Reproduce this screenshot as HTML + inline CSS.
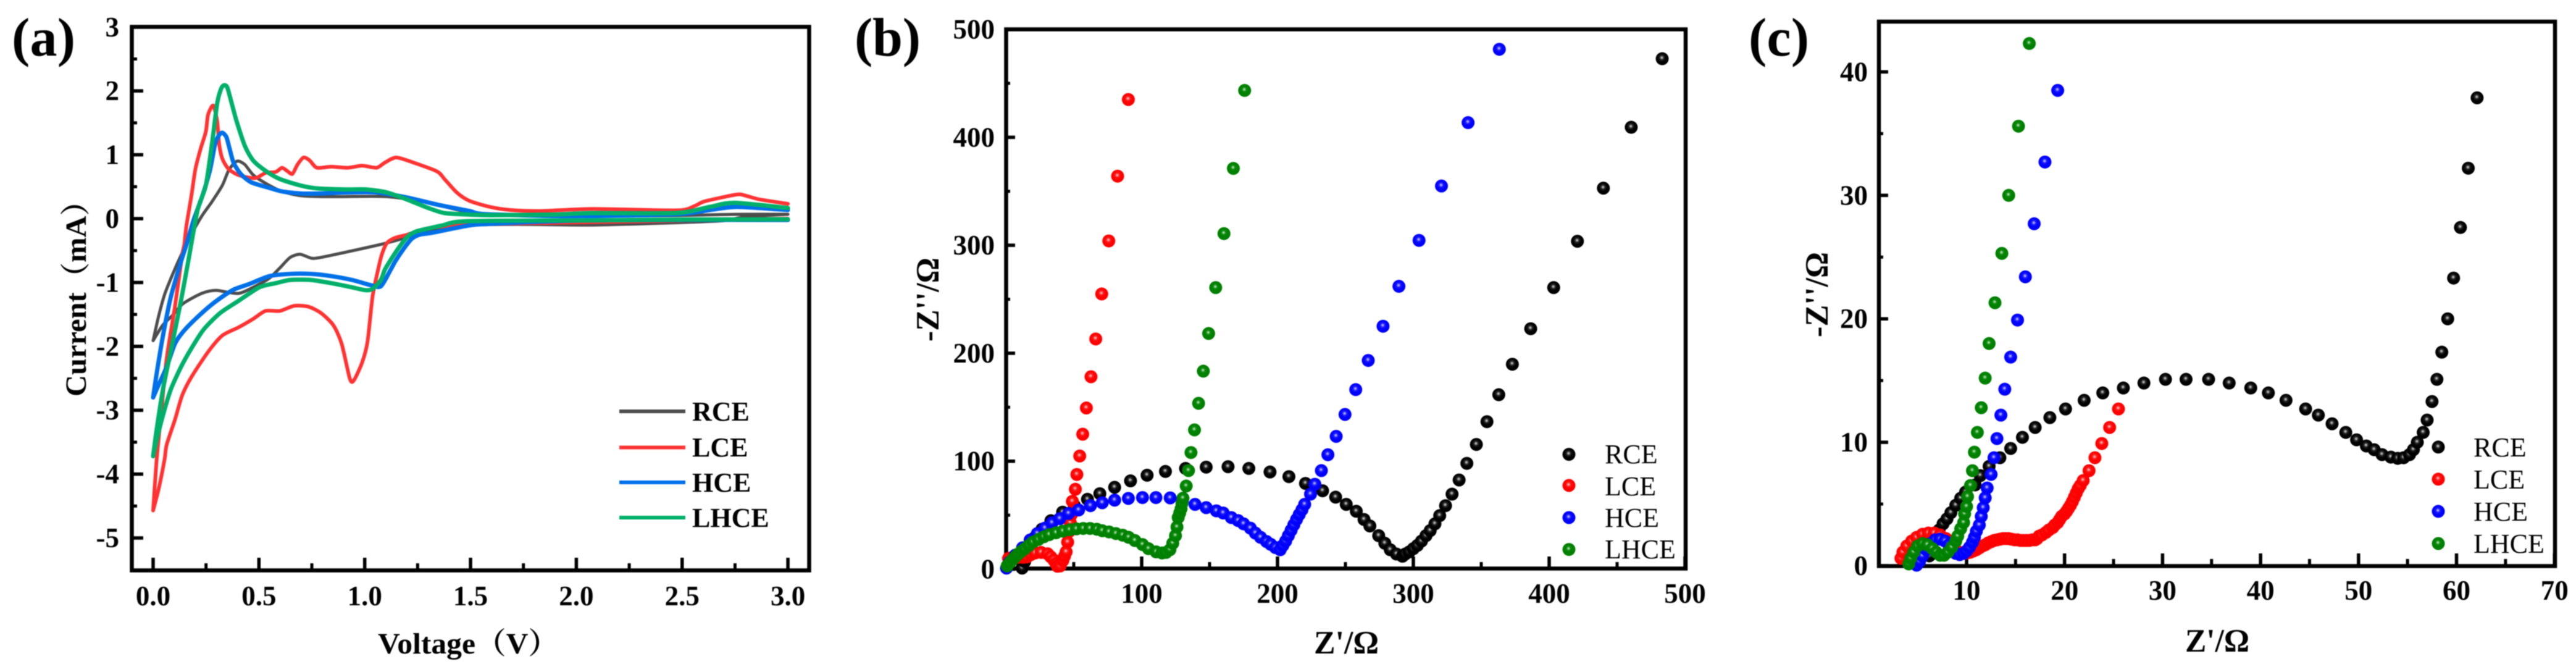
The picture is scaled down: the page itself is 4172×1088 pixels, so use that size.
<!DOCTYPE html>
<html lang="en">
<head>
<meta charset="utf-8">
<title>Electrochemical characterisation: CV and Nyquist plots</title>
<style>
html,body{margin:0;padding:0;background:#fff;width:4172px;height:1088px;overflow:hidden}
svg{display:block;filter:blur(.9px)}
text{font-family:"Liberation Serif","Noto Serif CJK SC",serif;fill:#000}
.tick{font-size:45px;font-weight:bold}
.ttl{font-size:48px;font-weight:bold}
.ttl-z{font-size:53px;font-weight:bold}
.leg-a{font-size:44px;font-weight:bold}
.leg{font-size:44px}
.tag{font-size:88px;font-weight:bold}
</style>
</head>
<body>
<svg id="figure" xmlns="http://www.w3.org/2000/svg" width="4172" height="1088" viewBox="0 0 4172 1088">
<defs>
<radialGradient id="ball-black" cx=".47" cy=".42" r=".55"><stop offset="0" stop-color="#e0e0e0"/><stop offset=".3" stop-color="#222"/><stop offset=".6" stop-color="#000"/></radialGradient>
<radialGradient id="ball-red" cx=".47" cy=".42" r=".55"><stop offset="0" stop-color="#ffd8d8"/><stop offset=".3" stop-color="#ff1a1a"/><stop offset=".6" stop-color="#ff0000"/></radialGradient>
<radialGradient id="ball-blue" cx=".47" cy=".42" r=".55"><stop offset="0" stop-color="#d8d8ff"/><stop offset=".3" stop-color="#1a1aff"/><stop offset=".6" stop-color="#0000ff"/></radialGradient>
<radialGradient id="ball-green" cx=".47" cy=".42" r=".55"><stop offset="0" stop-color="#d0ecd0"/><stop offset=".3" stop-color="#0a8a0a"/><stop offset=".6" stop-color="#008000"/></radialGradient>
</defs>

<g id="panel-a">
<rect x="213.5" y="43.5" width="1097" height="880" fill="#fff" stroke="#000" stroke-width="6.5"/>
<g id="a-ticks"></g>
<g id="a-series"></g>
<text class="tag" x="19" y="90" textLength="103">(a)</text>
<text class="ttl" transform="translate(139,642) rotate(-90)" textLength="341" lengthAdjust="spacingAndGlyphs">Current（mA）</text>
<text class="ttl" x="612" y="1058" textLength="293" lengthAdjust="spacingAndGlyphs">Voltage（V）</text>
<g>
<line x1="1003" x2="1110" y1="666" y2="666" stroke="#4d4d4d" stroke-width="6"/>
<line x1="1003" x2="1110" y1="724.5" y2="724.5" stroke="#ff3333" stroke-width="6"/>
<line x1="1003" x2="1110" y1="781" y2="781" stroke="#0070e8" stroke-width="6"/>
<line x1="1003" x2="1110" y1="838" y2="838" stroke="#00b06a" stroke-width="6"/>
<text class="leg-a" x="1121" y="681">RCE</text>
<text class="leg-a" x="1121" y="739">LCE</text>
<text class="leg-a" x="1121" y="796">HCE</text>
<text class="leg-a" x="1121" y="853">LHCE</text>
</g>
</g>

<g id="panel-b">
<rect x="1629.5" y="47.5" width="1100.5" height="873" fill="#fff" stroke="#000" stroke-width="6.5"/>
<g id="b-ticks"></g>
<g id="b-series"></g>
<text class="tag" x="1384" y="90" textLength="107">(b)</text>
<text class="ttl-z" transform="translate(1520,553) rotate(-90)" textLength="136" lengthAdjust="spacingAndGlyphs">-Z''/Ω</text>
<text class="ttl-z" x="2128" y="1058" textLength="105" lengthAdjust="spacingAndGlyphs">Z'/Ω</text>
<g>
<circle cx="2541" cy="735.6" r="10.5" fill="url(#ball-black)"/>
<circle cx="2541" cy="786" r="10.5" fill="url(#ball-red)"/>
<circle cx="2541" cy="838" r="10.5" fill="url(#ball-blue)"/>
<circle cx="2541" cy="889.6" r="10.5" fill="url(#ball-green)"/>
<text class="leg" x="2599" y="750">RCE</text>
<text class="leg" x="2599" y="802">LCE</text>
<text class="leg" x="2599" y="853">HCE</text>
<text class="leg" x="2599" y="904">LHCE</text>
</g>
</g>

<g id="panel-c">
<rect x="3043" y="35" width="1095" height="881.5" fill="#fff" stroke="#000" stroke-width="6.5"/>
<g id="c-ticks"></g>
<g id="c-series"></g>
<text class="tag" x="2832" y="90" textLength="98">(c)</text>
<text class="ttl-z" transform="translate(2960,546) rotate(-90)" textLength="138" lengthAdjust="spacingAndGlyphs">-Z''/Ω</text>
<text class="ttl-z" x="3539" y="1055" textLength="104" lengthAdjust="spacingAndGlyphs">Z'/Ω</text>
<g>
<circle cx="3949" cy="723.8" r="10.5" fill="url(#ball-black)"/>
<circle cx="3949" cy="775.8" r="10.5" fill="url(#ball-red)"/>
<circle cx="3949" cy="827.9" r="10.5" fill="url(#ball-blue)"/>
<circle cx="3949" cy="880" r="10.5" fill="url(#ball-green)"/>
<text class="leg" x="4006" y="739">RCE</text>
<text class="leg" x="4006" y="791">LCE</text>
<text class="leg" x="4006" y="843">HCE</text>
<text class="leg" x="4006" y="895">LHCE</text>
</g>
</g>
</svg>

<script>
/* ---------- Panel (a): cyclic voltammetry ---------- */
const aXMajor = [0, 0.5, 1, 1.5, 2, 2.5, 3];
const aXMinor = [0.25, 0.75, 1.25, 1.75, 2.25, 2.75];
const aXLabels = ['0.0', '0.5', '1.0', '1.5', '2.0', '2.5', '3.0'];
const aYMajor = [3, 2, 1, 0, -1, -2, -3, -4, -5];
const aYMinor = [2.5, 1.5, 0.5, -0.5, -1.5, -2.5, -3.5, -4.5];
const aYLabels = ['3', '2', '1', '0', '-1', '-2', '-3', '-4', '-5'];

const rceVoltage = [0,.025,.054,.093,.132,.18,.23,.278,.327,.356,.385,.405,.434,.473,.531,.609,.696,.794,.891,1.105,1.3,1.45,1.6,2,2.476,2.76,3,3,2.8,2.7,2.5,2.08,1.72,1.47,1.35,1.105,.91,.842,.755,.696,.648,.6,.55,.502,.405,.298,.23,.142,.093,.045,0];
const rceCurrent = [-1.91,-1.54,-1.19,-.865,-.574,-.25,.04,.265,.52,.75,.877,.9,.845,.684,.555,.426,.36,.345,.345,.345,.25,.13,.07,.04,.05,.068,.068,.068,.03,-.03,-.06,-.1,-.09,-.106,-.155,-.38,-.525,-.574,-.623,-.558,-.606,-.768,-.93,-1.025,-1.17,-1.123,-1.17,-1.33,-1.51,-1.67,-1.91];

const lceVoltage = [0,.016,.035,.064,.103,.137,.147,.157,.181,.2,.225,.249,.259,.278,.288,.303,.312,.327,.356,.405,.482,.531,.58,.609,.633,.658,.682,.711,.74,.774,.842,.92,.988,1.056,1.095,1.149,1.231,1.342,1.377,1.435,1.494,1.591,1.688,1.834,2.08,2.476,2.56,2.606,2.757,2.8,2.867,3,3,2.5,2,1.72,1.47,1.3,1.202,1.144,1.105,1.08,1.061,1.037,1.013,.988,.949,.93,.891,.852,.794,.735,.667,.599,.531,.473,.405,.327,.259,.181,.137,.103,.064,.054,.027,0];
const lceCurrent = [-4.57,-3.8,-3.15,-2.19,-1.38,-.574,-.41,-.12,.36,.78,1.1,1.36,1.62,1.76,1.75,1.52,1.17,.94,.78,.68,.635,.716,.732,.797,.748,.7,.845,.958,.91,.797,.813,.797,.829,.797,.877,.958,.877,.739,.62,.41,.28,.184,.135,.12,.152,.13,.2,.27,.377,.36,.3,.232,0,-.03,-.06,-.075,-.1,-.15,-.25,-.3,-.38,-.57,-.83,-1.22,-1.93,-2.25,-2.53,-2.51,-1.96,-1.67,-1.48,-1.38,-1.365,-1.445,-1.445,-1.57,-1.7,-1.83,-2.09,-2.48,-2.77,-3.15,-3.54,-3.77,-4.22,-4.57];

const hceVoltage = [0,.016,.045,.084,.132,.157,.191,.23,.268,.293,.312,.327,.346,.361,.38,.414,.463,.541,.609,.696,.794,.91,1.056,1.202,1.348,1.495,1.573,1.98,2.476,2.63,2.76,3,3,2.5,2,1.6,1.495,1.319,1.26,1.222,1.183,1.144,1.12,1.076,1.027,.94,.842,.745,.648,.55,.453,.375,.288,.21,.142,.103,.064,.025,0];
const hceCurrent = [-2.8,-2.44,-1.86,-1.22,-.67,-.41,-.026,.33,.75,1.17,1.31,1.345,1.28,1.1,.877,.7,.57,.49,.426,.394,.394,.41,.41,.33,.216,.12,.07,.04,.07,.135,.184,.135,-.02,-.02,-.03,-.08,-.106,-.22,-.25,-.316,-.477,-.67,-.815,-1.06,-1.04,-.96,-.9,-.865,-.865,-.9,-1.025,-1.12,-1.316,-1.54,-1.77,-1.96,-2.32,-2.61,-2.8];

const lhceVoltage = [0,.016,.045,.084,.132,.171,.21,.249,.278,.303,.322,.337,.351,.371,.395,.434,.473,.531,.599,.696,.774,.91,1.007,1.105,1.202,1.3,1.378,1.495,1.592,1.884,2.08,2.476,2.63,2.748,3,3,2.5,2.08,1.484,1.367,1.3,1.241,1.202,1.163,1.124,1.095,1.076,1.037,1.003,.94,.842,.745,.648,.58,.502,.405,.317,.239,.181,.132,.084,.054,.025,0];
const lhceCurrent = [-3.72,-3.32,-2.7,-2.06,-1.28,-.574,.135,.52,1.17,1.81,2.04,2.09,2.05,1.81,1.52,1.135,.91,.75,.62,.52,.474,.457,.457,.41,.297,.167,.087,.064,.055,.064,.087,.09,.184,.248,.167,-.01,-.015,-.026,-.04,-.106,-.155,-.203,-.283,-.445,-.64,-.8,-.96,-1.1,-1.12,-1.075,-1.01,-.96,-.96,-1.01,-1.075,-1.284,-1.477,-1.735,-2.03,-2.32,-2.67,-2.99,-3.35,-3.72];

/* ---------- Panel (b): Nyquist, full range ---------- */
const bXMajor = [100, 200, 300, 400, 500];
const bXMinor = [50, 150, 250, 350, 450];
const bXLabels = ['100', '200', '300', '400', '500'];
const bYMajor = [500, 400, 300, 200, 100, 0];
const bYMinor = [450, 350, 250, 150, 50];
const bYLabels = ['500', '400', '300', '200', '100', '0'];

const bRceReal = [12,13.9,16.6,21,26.6,33.2,41.8,50.5,60.1,69.2,80.1,91.8,104,117.5,132.3,147.5,163.6,178.9,194.5,208.4,220.6,233.2,242.8,250.6,258,263.7,268,274.5,279,283,287.6,292,294,297,300,303,306,309.3,312.4,315.9,319.4,323.7,328.5,333.7,339.4,346.4,354.2,362.9,372.9,386.4,403.3,420.8,439.9,460.4,483.2];
const bRceImag = [1,7.1,19,29,37,44.9,52.8,58.8,64.7,69.9,75.8,81.8,87,90.5,93.3,94.5,94.9,93.3,90,85.7,79.4,72.6,66.7,60,53.6,46,40,31,24,18,14,12,14,16,19,22,26,31,35.7,42,49.6,58.8,69.5,82.6,98,115.5,136.6,161.6,189.8,222.7,260.8,303.7,352.9,409.3,472.8];

const bLceReal = [2,5,9,12.5,15.6,18.5,21.6,26,30.8,33,35.3,37,38,40,42,43.2,44.4,45.5,46.7,47.5,48.2,49,51.2,52.3,54.4,56.6,59.3,62.7,66.2,70.6,75.8,82.3,90.2];
const bLceImag = [10,11,11,11,11.3,13.5,15,15.5,14.2,11.5,8.5,5,2.7,3,8,12,16,25,35,43,50.5,62.8,74,87.7,104.8,125,149.3,178.2,213.2,254.9,304,364,435];

const bHceReal = [.5,2.7,7,12.3,17.9,23.2,28.8,34,39.7,46.2,53.6,62.3,71,80.1,90.2,100.6,110.5,121,130,139.3,147.5,155,160,166,171,175,180,183.7,187.5,191.9,195,198.5,202,204,206,208,210,212,214,216,218,220,224.3,227.5,232.3,237.1,243.2,249.7,257.6,266.8,277.7,289.4,304.2,320.7,340.3,363.3];
const bHceImag = [1,6.4,13,19.8,27,33,38,42.9,46.8,51.6,54.8,58.8,61.5,63.9,65.5,66.3,66.3,66,63,60,57,54,52,47.8,45,42,38,33.4,29.5,25.6,23,20,18,22,26,31,36,41,46,50.6,55,60,69.5,78.6,91.3,106,123,143.3,166.3,193.3,225,262,304.5,354.9,413.6,481.5];

const bLhceReal = [1,3,5,7,9,11.4,14,17,20,24,28,32,37,42,47,52,57,62,67,71,76,81,86,90.4,95,100.6,105,110.7,115,118,120.8,122.9,124.9,126,126.9,128,129,129.7,130.4,132.8,134.5,136.3,138.9,141.9,145.4,149.3,154.5,160.6,167.5,175.8];
const bLhceImag = [3,6,9,11.5,14,16.5,19,22,25,27.5,30,32,33.7,35.2,36.5,37.3,37.7,37.7,37,35.6,34.5,33,31.5,29.5,26.5,22.8,19,16,15,15.5,18,24,31,39,47.8,52,56,61,65.7,77,91.3,108,129,153.6,183.4,218.3,260.8,310.8,371.2,443.4];

/* ---------- Panel (c): Nyquist, low-impedance range ---------- */
const cXMajor = [10, 20, 30, 40, 50, 60, 70];
const cXMinor = [5, 15, 25, 35, 45, 55, 65];
const cXLabels = ['10', '20', '30', '40', '50', '60', '70'];
const cYMajor = [40, 30, 20, 10, 0];
const cYMinor = [35, 25, 15, 5];
const cYLabels = ['40', '30', '20', '10', '0'];

const cRceReal = [6.2,6.5,7.2,7.6,8,8.4,8.9,9.4,9.9,10.87,11.4,12.3,13.4,14.5,15.7,17,18.5,20.1,22,23.9,26,28.1,30.3,32.4,34.7,36.8,39,40.8,42.6,44.6,45.9,47.3,48.7,49.8,50.8,51.6,52.4,53.3,54,54.6,55.2,55.6,56,56.6,57,57.5,58,58.5,59.1,59.7,60.4,61.2,62.1];
const cRceImag = [.8,2,2.9,3.4,3.8,4.3,4.9,5.47,5.97,6.55,7.3,8.05,8.75,9.5,10.4,11.2,12,12.7,13.4,14,14.4,14.8,15.1,15.1,15.1,14.8,14.4,14,13.4,12.7,12.2,11.5,10.8,10.2,9.7,9.4,9,8.8,8.7,8.75,9,9.4,10,10.8,11.8,13.3,15.1,17.3,20,23.3,27.4,32.2,37.9];

const cLceReal = [3.3,3.5,3.9,4.4,4.9,5.5,6.1,6.7,7.3,7.9,8.4,8.8,9.2,9.5,9.8,10.1,10.4,10.7,11,11.3,11.6,11.9,12.2,12.5,12.8,13.1,13.4,13.7,14,14.3,14.6,14.9,15.2,15.5,15.8,16.1,16.4,16.7,17,17.2,17.4,17.7,18.1,18.4,18.8,19,19.3,19.5,19.7,20,20.2,20.4,20.6,20.8,21,21.2,21.4,21.6,21.9,22.5,23.1,23.8,24.6,25.5];
const cLceImag = [.6,1.1,1.6,2,2.3,2.55,2.65,2.65,2.5,2.2,1.8,1.4,1.1,1.05,1,1.05,1.1,1.2,1.3,1.45,1.6,1.7,1.85,1.95,2.05,2.1,2.15,2.2,2.2,2.2,2.15,2.1,2.1,2.05,2.05,2.05,2.05,2.1,2.1,2.2,2.4,2.5,2.7,2.9,3.1,3.3,3.5,3.75,4,4.2,4.4,4.65,4.9,5.2,5.55,5.9,6.25,6.5,6.9,7.7,8.75,9.9,11.2,12.7];

const cHceReal = [4.9,5.2,5.5,5.9,6.3,6.8,7.3,7.8,8.2,8.5,8.9,9.3,9.7,10,10.3,10.6,10.8,11,11.3,11.5,11.7,11.9,12.1,12.5,12.8,13.1,13.5,13.9,14.5,15.2,16,16.9,18,19.3];
const cHceImag = [.05,.35,.8,1.3,1.8,2.1,2.15,2,1.7,1.3,1,.9,1,1.2,1.5,1.9,2.3,2.8,3.3,4,4.7,5.5,6.3,7.4,8.75,10.3,12.2,14.3,16.9,19.9,23.4,27.7,32.7,38.5];

const cLhceReal = [4.1,4.3,4.6,5,5.5,6,6.5,6.9,7.3,7.7,8.1,8.5,8.9,9.1,9.4,9.7,9.8,10,10.1,10.4,10.6,10.8,11.1,11.5,11.9,12.3,12.9,13.6,14.3,15.3,16.4];
const cLhceImag = [.15,.6,1.1,1.6,1.8,1.7,1.4,1.1,.85,.85,1.1,1.5,2,2.4,3,3.5,4.2,4.8,5.6,6.5,7.7,9.2,10.8,12.8,15.2,18,21.3,25.3,30,35.6,42.3];

/* ---------- Axis functions ---------- */
const aX = v => 248 + 342.7 * v;
const aY = c => 354 - 103.4 * c;
const bX = z => 1629 + 2.2 * z;
const bY = z => 921.5 - 1.748 * z;
const cX = z => 3026.3 + 15.87 * z;
const cY = z => 916 - 19.99 * z;

const SVGNS = 'http://www.w3.org/2000/svg';

function makeLine(parent, x1, y1, x2, y2, width) {
  const el = document.createElementNS(SVGNS, 'line');
  el.setAttribute('x1', x1);
  el.setAttribute('y1', y1);
  el.setAttribute('x2', x2);
  el.setAttribute('y2', y2);
  el.setAttribute('stroke', '#000');
  el.setAttribute('stroke-width', width);
  parent.appendChild(el);
  return el;
}

function makeLabel(parent, x, y, anchor, str) {
  const el = document.createElementNS(SVGNS, 'text');
  el.setAttribute('class', 'tick');
  el.setAttribute('x', x);
  el.setAttribute('y', y);
  el.setAttribute('text-anchor', anchor);
  el.textContent = str;
  parent.appendChild(el);
  return el;
}

function drawAxes(id, sx, sy, left, bottom, xMajor, xMinor, xLabels, yMajor, yMinor, yLabels, labelRight, labelBase, yLong, yShort) {
  const g = document.getElementById(id);
  xMajor.forEach((t, i) => {
    const tick = makeLine(g, sx(t), bottom, sx(t), bottom - 18, 5.5);
    
    
    const lab = makeLabel(g, sx(t), labelBase, 'middle', xLabels[i]);
    
    
  });
  xMinor.forEach(t => {
    const tick = makeLine(g, sx(t), bottom, sx(t), bottom - 9, 5);
    
    
  });
  yMajor.forEach((t, i) => {
    const tick = makeLine(g, left, sy(t), left + yLong, sy(t), 5.5);
    
    
    const lab = makeLabel(g, labelRight, sy(t) + 15, 'end', yLabels[i]);
    
    
  });
  yMinor.forEach(t => {
    const tick = makeLine(g, left, sy(t), left + yShort, sy(t), 5);
    
    
  });
}

/* The scan reverses at 3 V; the two branches are drawn as separate subpaths. */
function smoothPath(xs, ys) {
  const p = xs.map((x, i) => [aX(x), aY(ys[i])]);
  let d = 'M' + p[0][0] + ' ' + p[0][1];
  for (let i = 0; i < p.length - 1; i++) {
    const b = p[i], c = p[i + 1];
    if (xs[i] === xs[i + 1]) {
      d += 'M' + c[0] + ' ' + c[1];
      continue;
    }
    const a = (i > 0 && xs[i - 1] !== xs[i]) ? p[i - 1] : b;
    const e = (i + 2 < p.length && xs[i + 2] !== xs[i + 1]) ? p[i + 2] : c;
    const c1x = b[0] + (c[0] - a[0]) / 8, c1y = b[1] + (c[1] - a[1]) / 8;
    const c2x = c[0] - (e[0] - b[0]) / 8, c2y = c[1] - (e[1] - b[1]) / 8;
    d += 'C' + c1x + ' ' + c1y + ' ' + c2x + ' ' + c2y + ' ' + c[0] + ' ' + c[1];
  }
  return d;
}

function drawCurve(xs, ys, color, width, name) {
  const el = document.createElementNS(SVGNS, 'path');
  el.setAttribute('d', smoothPath(xs, ys));
  el.setAttribute('fill', 'none');
  el.setAttribute('stroke', color);
  el.setAttribute('stroke-width', width);
  el.setAttribute('stroke-linejoin', 'round');
  el.setAttribute('stroke-linecap', 'round');
  
  
  document.getElementById('a-series').appendChild(el);
}

function drawPoints(id, sx, sy, xs, ys, gradient, name) {
  const g = document.createElementNS(SVGNS, 'g');
  
  
  document.getElementById(id).appendChild(g);
  xs.forEach((x, i) => {
    const pt = document.createElementNS(SVGNS, 'circle');
    pt.setAttribute('cx', sx(x));
    pt.setAttribute('cy', sy(ys[i]));
    pt.setAttribute('r', 10.5);
    pt.setAttribute('fill', 'url(#' + gradient + ')');
    
    
    g.appendChild(pt);
  });
}

drawAxes('a-ticks', aX, aY, 216, 921, aXMajor, aXMinor, aXLabels, aYMajor, aYMinor, aYLabels, 193, 980, 16, 6);
drawAxes('b-ticks', bX, bY, 1632, 919, bXMajor, bXMinor, bXLabels, bYMajor, bYMinor, bYLabels, 1611, 976, 12, 4);
drawAxes('c-ticks', cX, cY, 3046, 914, cXMajor, cXMinor, cXLabels, cYMajor, cYMinor, cYLabels, 3025, 971, 12, 4);

drawCurve(rceVoltage, rceCurrent, '#4d4d4d', 5, 'curve-rce');
drawCurve(lceVoltage, lceCurrent, '#ff3333', 6, 'curve-lce');
drawCurve(hceVoltage, hceCurrent, '#0070e8', 7, 'curve-hce');
drawCurve(lhceVoltage, lhceCurrent, '#00b06a', 7, 'curve-lhce');

drawPoints('b-series', bX, bY, bRceReal, bRceImag, 'ball-black', 'series-rce-b');
drawPoints('b-series', bX, bY, bLceReal, bLceImag, 'ball-red', 'series-lce-b');
drawPoints('b-series', bX, bY, bHceReal, bHceImag, 'ball-blue', 'series-hce-b');
drawPoints('b-series', bX, bY, bLhceReal, bLhceImag, 'ball-green', 'series-lhce-b');

drawPoints('c-series', cX, cY, cRceReal, cRceImag, 'ball-black', 'series-rce-c');
drawPoints('c-series', cX, cY, cLceReal, cLceImag, 'ball-red', 'series-lce-c');
drawPoints('c-series', cX, cY, cHceReal, cHceImag, 'ball-blue', 'series-hce-c');
drawPoints('c-series', cX, cY, cLhceReal, cLhceImag, 'ball-green', 'series-lhce-c');
</script>
</body>
</html>
